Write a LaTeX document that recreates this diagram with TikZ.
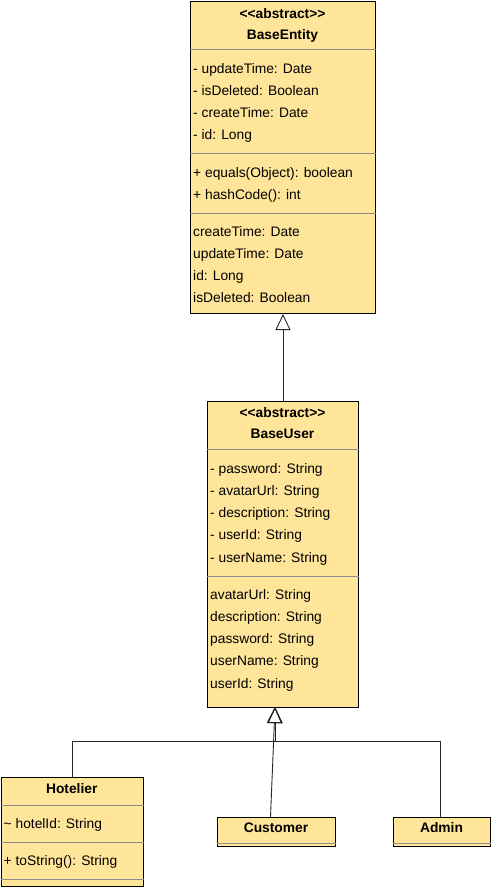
\documentclass[tikz,border=0pt]{standalone}
\usepackage{fontspec}
\setmainfont{Liberation Sans}
\usetikzlibrary{arrows.meta, positioning}
\definecolor{umlfill}{HTML}{FFE599}
\definecolor{umlsep}{HTML}{8C8C8C}

\begin{document}
\begin{tikzpicture}[x=1pt,y=-1pt,>={Triangle[open,length=16pt,width=15pt]},
        umlclass/.style={draw=black,fill=umlfill,line width=1pt,inner sep=0pt,anchor=north west},
        member/.style={anchor=base west,inner sep=0pt,font=\fontsize{13.8}{16}\selectfont},
        title/.style={anchor=base,inner sep=0pt,font=\fontsize{13.8}{16}\selectfont\bfseries},
        sep/.style={draw=umlsep,line width=0.8pt},
        inherit/.style={draw=black!85,line width=0.9pt,->}]
    \useasboundingbox (0,0) rectangle (491,887);

    % BaseEntity
    \node[umlclass,minimum width=185pt,minimum height=312pt] (be) at (190,1) {};
    \node[title] (be-st) at (282.5,18) {<\kern0pt<abstract>\kern0pt>};
    \node[title] (be-name) at (282.5,39) {BaseEntity};
    \draw[sep] (be.west |- 0,49) -- (be.east |- 0,49);
    \foreach \t [count=\i from 0] in {- updateTime: Date,- isDeleted: Boolean,- createTime: Date,- id: Long}
        \node[member] (be-a\i) at (193,{73+22.2*\i}) {\t};
    \draw[sep] (be.west |- 0,153) -- (be.east |- 0,153);
    \foreach \t [count=\i from 0] in {+ equals(Object): boolean,+ hashCode(): int}
        \node[member] (be-m\i) at (193,{177+22.2*\i}) {\t};
    \draw[sep] (be.west |- 0,213) -- (be.east |- 0,213);
    \foreach \t [count=\i from 0] in {createTime: Date,updateTime: Date,id: Long,isDeleted: Boolean}
        \node[member] (be-g\i) at (193,{236+22.2*\i}) {\t};

    % BaseUser
    \node[umlclass,minimum width=151pt,minimum height=306pt] (bu) at (207,401) {};
    \node[title] (bu-st) at (282.5,417) {<\kern0pt<abstract>\kern0pt>};
    \node[title] (bu-name) at (282.5,438) {BaseUser};
    \draw[sep] (bu.west |- 0,449) -- (bu.east |- 0,449);
    \foreach \t [count=\i from 0] in {- password: String,- avatarUrl: String,- description: String,- userId: String,- userName: String}
        \node[member] (bu-a\i) at (210,{473.3+22.2*\i}) {\t};
    \draw[sep] (bu.west |- 0,576) -- (bu.east |- 0,576);
    \foreach \t [count=\i from 0] in {avatarUrl: String,description: String,password: String,userName: String,userId: String}
        \node[member] (bu-g\i) at (210,{599.3+22.2*\i}) {\t};

    % Hotelier
    \node[umlclass,minimum width=142.5pt,minimum height=109pt] (ho) at (0.5,777) {};
    \node[title] (ho-name) at (71.75,793) {Hotelier};
    \draw[sep] (ho.west |- 0,805) -- (ho.east |- 0,805);
    \node[member] (ho-a0) at (3.5,828) {\textasciitilde{} hotelId: String};
    \draw[sep] (ho.west |- 0,842) -- (ho.east |- 0,842);
    \node[member] (ho-m0) at (3.5,865) {+ toString(): String};
    \draw[sep] (ho.west |- 0,879) -- (ho.east |- 0,879);

    % Customer and Admin
    \node[umlclass,minimum width=118pt,minimum height=29pt] (cu) at (217,817) {};
    \node[title] (cu-name) at (276,832.5) {Customer};
    \draw[sep] (cu.west |- 0,843.5) -- (cu.east |- 0,843.5);
    \node[umlclass,minimum width=97pt,minimum height=29pt] (ad) at (393,817) {};
    \node[title] (ad-name) at (441.5,832.5) {Admin};
    \draw[sep] (ad.west |- 0,843.5) -- (ad.east |- 0,843.5);

    % generalisations
    \coordinate (tip) at (275,707);
    \coordinate (bar) at (275,741);
    \draw[inherit] (bu.north) -- (be.south);
    \draw[inherit] (ho.north) |- (bar) -- (tip);
    \draw[inherit] (ad.north -| 440,0) |- (bar) -- (tip);
    \draw[inherit] ([xshift=-6pt]cu.north) -- (tip);
\end{tikzpicture}
\end{document}
